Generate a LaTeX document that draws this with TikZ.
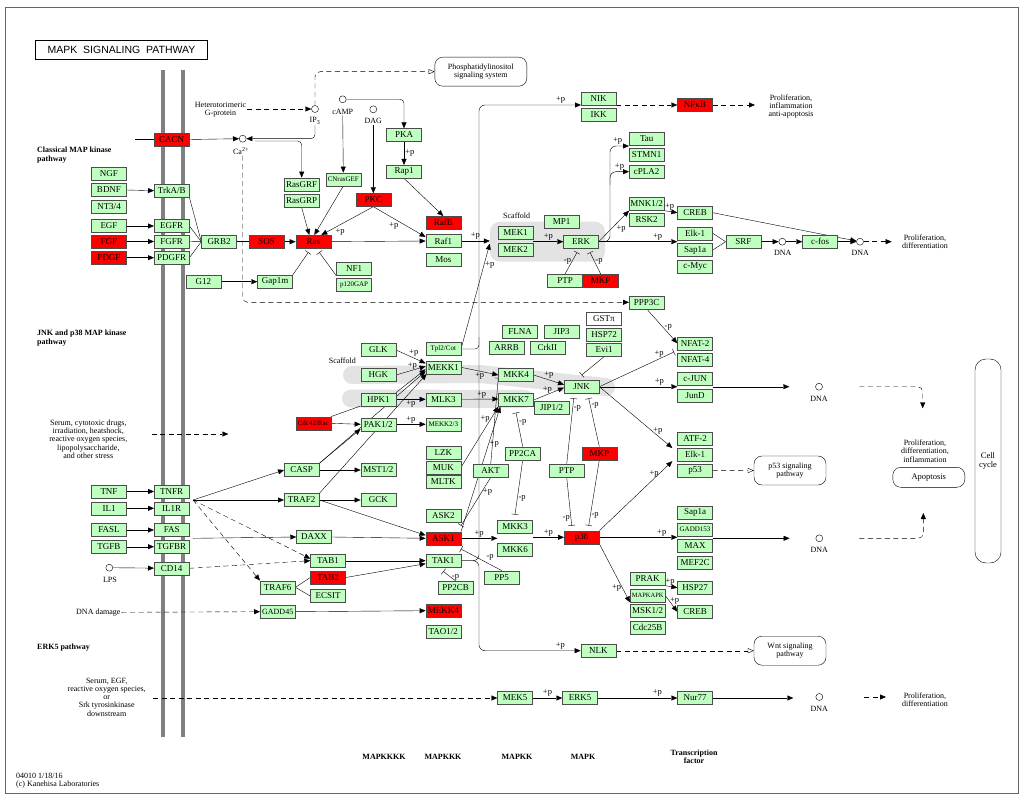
\documentclass[tikz,border=0pt]{standalone}
\usepackage{fontspec}
\setmainfont{Liberation Serif}
\newfontfamily\titlefont{Liberation Sans}
\usetikzlibrary{arrows.meta}
\pgfdeclarelayer{back}
\pgfdeclarelayer{wires}
\pgfsetlayers{back,wires,main}
\definecolor{kgreen}{HTML}{BFFFBF}
\definecolor{kred}{HTML}{FF0000}
\definecolor{scaf}{HTML}{E3E3E3}
\tikzstyle{gene} = [draw=black!70, fill=kgreen, rectangle,
    minimum height=13pt, minimum width=35pt, inner sep=0pt,
    font=\fontsize{9}{9}\selectfont]
\tikzstyle{hit} = [gene, fill=kred]
\tikzstyle{squeeze} = [font=\fontsize{7}{7}\selectfont]
\tikzstyle{cpd} = [draw, circle, fill=white, inner sep=0pt, minimum size=7pt]
\tikzstyle{note} = [align=center, inner sep=1pt, font=\fontsize{8}{8.3}\selectfont]
\tikzstyle{sect} = [align=left, anchor=north west, inner sep=0pt,
    font=\bfseries\fontsize{8}{8.5}\selectfont]
\tikzstyle{tier} = [align=center, inner sep=0pt, font=\bfseries\fontsize{8}{8}\selectfont]
\tikzstyle{lbl} = [inner sep=1pt, font=\fontsize{8.5}{8.5}\selectfont]
\tikzstyle{mapbox} = [draw, rounded corners=8pt, align=center,
    minimum width=72pt, minimum height=29pt, font=\fontsize{8}{8.3}\selectfont]
\tikzstyle{act} = [-{Triangle[length=6pt,width=5pt]}]
\tikzstyle{oact} = [-{Triangle[open,length=6pt,width=5pt]}]
\tikzstyle{inh} = [-{Bar[width=7pt]}]
\tikzstyle{ind} = [dash pattern=on 5pt off 3.5pt]

\begin{document}
\begin{tikzpicture}[x=1pt, y=-1pt, line width=0.85pt]
\useasboundingbox (0,0) rectangle (1024,799);
\draw[black!60] (5,7) rectangle (1018,793);

% membrane and scaffolds
\begin{pgfonlayer}{back}
\draw[black!50, line width=4pt] (162.7,70) -- (162.7,737);
\draw[black!50, line width=4pt] (182.7,70) -- (182.7,737);
\node[fill=scaf, rounded corners=10pt, minimum width=115pt,
    minimum height=40pt, inner sep=0pt] (scafmek) at (547.5,241.7) {};
\draw[scaf, line width=18pt, line cap=round, line join=round]
    (352,375) -- (480,374) -- (606,387);
\draw[scaf, line width=18pt, line cap=round] (351,398.5) -- (525,399);
\end{pgfonlayer}

\node[draw, line width=1.5pt, minimum width=172pt, minimum height=19pt,
    font=\titlefont\fontsize{10.5}{10.5}\selectfont] (title) at (121.5,50)
    {MAPK\ \ SIGNALING\ \ PATHWAY};
\node[sect] (classic) at (37,147) {Classical MAP kinase\\pathway};
\node[sect] (jnkp) at (37,330) {JNK and p38 MAP kinase\\pathway};
\node[sect] (erk5p) at (37,644) {ERK5 pathway};
\node[note, align=left, anchor=west] (foot) at (15,781)
    {04010 1/18/16\\(c) Kanehisa Laboratories};

% compounds and pathway maps
\node[note] (hetero) at (220.5,110) {Heterotorimeric\\G-protein};
\node[cpd] (ip3) at (315,109) {};
\node[note] (ip3t) at (315,121) {IP\textsubscript{3}};
\node[cpd] (ca) at (242.7,138.7) {};
\node[note] (catxt) at (241,151) {Ca\textsuperscript{2+}};
\node[cpd] (camp) at (342.7,99.3) {};
\node[note] (campt) at (342.7,111.7) {cAMP};
\node[cpd] (dag) at (373.3,109.3) {};
\node[note] (dagt) at (373.3,121) {DAG};
\node[mapbox, minimum width=92pt] (pis) at (480.8,71.7) {Phosphatidylinositol\\signaling system};

% classical MAP kinase
\node[hit] (cacn) at (171.5,139.5) {CACN};
\node[gene] (ngf) at (109,173.3) {NGF};
\node[gene] (bdnf) at (109,190) {BDNF};
\node[gene] (nt34) at (109,206.5) {NT3/4};
\node[gene] (trkab) at (171.7,190.7) {TrkA/B};
\node[gene] (egf) at (109,226) {EGF};
\node[hit] (fgf) at (109,241.5) {FGF};
\node[hit] (pdgf) at (109,257.7) {PDGF};
\node[gene] (egfr) at (171.7,226) {EGFR};
\node[gene] (fgfr) at (171.7,241.5) {FGFR};
\node[gene] (pdgfr) at (171.7,257.7) {PDGFR};
\node[gene] (grb2) at (219,241.7) {GRB2};
\node[hit] (sos) at (266.7,241.7) {SOS};
\node[hit] (ras) at (313.3,241.7) {Ras};
\node[gene] (g12) at (203.3,281.7) {G12};
\node[gene] (gap1m) at (275,281.7) {Gap1m};
\node[gene] (nf1) at (354,269) {NF1};
\node[gene, squeeze] (p120) at (354,285) {p120GAP};
\node[gene] (rasgrf) at (301.7,184.3) {RasGRF};
\node[gene] (rasgrp) at (301.7,201) {RasGRP};
\node[gene, squeeze] (cnras) at (343.3,179.3) {CNrasGEF};
\node[hit] (pkc) at (373.3,200) {PKC};
\node[gene] (pka) at (404,135) {PKA};
\node[gene] (rap1) at (404,171.7) {Rap1};
\node[hit] (rafb) at (443.3,222.7) {RafB};
\node[gene] (raf1) at (443.3,241) {Raf1};
\node[gene] (mos) at (443.3,259.3) {Mos};
\node[note] (scaf1t) at (516.7,216) {Scaffold};
\node[gene] (mek1) at (515.7,232.7) {MEK1};
\node[gene] (mek2) at (515.7,250) {MEK2};
\node[gene] (mp1) at (561.7,222) {MP1};
\node[gene] (erk) at (581,241.7) {ERK};
\node[gene] (ptp1) at (565,280.7) {PTP};
\node[hit] (mkp1) at (600.7,280.7) {MKP};
\node[gene] (nik) at (598.7,98.3) {NIK};
\node[gene] (ikk) at (598.7,114.3) {IKK};
\node[hit] (nfkb) at (695,105) {NFκB};
\node[note] (prolifA) at (791,106.7) {Proliferation,\\inflammation\\anti-apoptosis};
\node[gene] (tau) at (646.7,138.3) {Tau};
\node[gene] (stmn1) at (646.7,154.7) {STMN1};
\node[gene] (cpla2) at (646.7,171.7) {cPLA2};
\node[gene] (mnk) at (646.7,204) {MNK1/2};
\node[gene] (rsk2) at (646.7,219.5) {RSK2};
\node[gene] (creb1) at (695,212.7) {CREB};
\node[gene] (elk1a) at (695,233.3) {Elk-1};
\node[gene] (sap1a) at (695,250) {Sap1a};
\node[gene] (cmyc) at (695,266.7) {c-Myc};
\node[gene] (srf) at (743.3,241.7) {SRF};
\node[cpd] (dna1) at (782.3,241.7) {};
\node[note] (dna1t) at (782.7,253) {DNA};
\node[gene] (cfos) at (820,241.7) {c-fos};
\node[cpd] (dna2) at (860,241.7) {};
\node[note] (dna2t) at (860.3,253) {DNA};
\node[note] (prolifB) at (925,242) {Proliferation,\\differentiation};

% JNK and p38
\node[gene] (ppp3c) at (646.7,302.3) {PPP3C};
\node[note] (scaf2t) at (342.3,361) {Scaffold};
\node[gene] (glk) at (378.3,350) {GLK};
\node[gene] (hgk) at (378.3,375) {HGK};
\node[gene] (hpk1) at (378.3,399.3) {HPK1};
\node[gene] (pak12) at (378.3,424.3) {PAK1/2};
\node[hit, squeeze] (cdc42) at (313.3,423.3) {Cdc42/Rac};
\node[gene] (casp) at (301.7,470) {CASP};
\node[gene] (traf2) at (301.7,500) {TRAF2};
\node[gene] (mst12) at (378.3,470) {MST1/2};
\node[gene] (gck) at (378.3,500) {GCK};
\node[gene, squeeze] (tpl2) at (443.3,349) {Tpl2/Cot};
\node[gene] (mekk1) at (443.3,367.3) {MEKK1};
\node[gene] (mlk3) at (443.3,399.3) {MLK3};
\node[gene, squeeze] (mekk23) at (443.3,424.3) {MEKK2/3};
\node[gene] (lzk) at (443.3,452.7) {LZK};
\node[gene] (muk) at (443.3,467.3) {MUK};
\node[gene] (mltk) at (443.3,481.7) {MLTK};
\node[gene] (ask2) at (443.3,515.5) {ASK2};
\node[gene] (flna) at (520,331.7) {FLNA};
\node[gene] (jip3) at (561.7,331.7) {JIP3};
\node[gene] (arrb) at (506.7,347.3) {ARRB};
\node[gene] (crkii) at (547.3,347.3) {CrkII};
\node[gene, fill=white] (gstp) at (604,318.3) {GSTπ};
\node[gene] (hsp72) at (604,334.3) {HSP72};
\node[gene] (evi1) at (604,350) {Evi1};
\node[gene] (mkk4) at (516,375) {MKK4};
\node[gene] (mkk7) at (516,400) {MKK7};
\node[gene] (jip12) at (551.7,407.3) {JIP1/2};
\node[gene] (jnk) at (581.7,386.7) {JNK};
\node[gene] (pp2ca) at (522.7,453.3) {PP2CA};
\node[gene] (akt) at (490.7,470.7) {AKT};
\node[gene] (ptp2) at (566.7,470.7) {PTP};
\node[hit] (mkp2) at (599.3,453.3) {MKP};
\node[gene] (nfat2) at (695,343.3) {NFAT-2};
\node[gene] (nfat4) at (695,360) {NFAT-4};
\node[gene] (cjun) at (695,379) {c-JUN};
\node[gene] (jund) at (695,395.7) {JunD};
\node[cpd] (dna3) at (819,386.7) {};
\node[note] (dna3t) at (819,398.5) {DNA};
\node[gene] (atf2) at (695,438.3) {ATF-2};
\node[gene] (elk1b) at (695,454.5) {Elk-1};
\node[gene] (p53) at (695,470.7) {p53};
\node[mapbox] (p53path) at (790,470.5) {p53 signaling\\pathway};
\node[note] (prolifC) at (925,451) {Proliferation,\\differentiation,\\inflammation};
\node[mapbox, minimum height=20pt, font=\fontsize{8.5}{8.5}\selectfont] (apop) at (928.8,477.3) {Apoptosis};
\node[draw, rounded corners=11pt, minimum width=26pt, minimum height=204pt,
    align=center, font=\fontsize{8.5}{8.8}\selectfont] (cellcyc) at (988,461) {Cell\\cycle};
\node[note] (stress) at (88.3,439) {Serum, cytotoxic drugs,\\irradiation, heatshock,\\reactive oxygen species,\\lipopolysaccharide,\\and other stress};
\node[gene] (tnf) at (109,491.5) {TNF};
\node[gene] (il1) at (109,508.3) {IL1};
\node[gene] (fasl) at (109,530) {FASL};
\node[gene] (tgfb) at (109,546.7) {TGFB};
\node[gene] (tnfr) at (171.7,491.5) {TNFR};
\node[gene] (il1r) at (171.7,508.3) {IL1R};
\node[gene] (fas) at (171.7,530) {FAS};
\node[gene] (tgfbr) at (171.7,546.7) {TGFBR};
\node[cpd] (lps) at (109.3,567.7) {};
\node[note] (lpst) at (110,580) {LPS};
\node[gene] (cd14) at (171.7,568.3) {CD14};
\node[gene] (daxx) at (314,537) {DAXX};
\node[gene] (tab1) at (328,560.7) {TAB1};
\node[hit] (tab2) at (328,577.5) {TAB2};
\node[gene] (ecsit) at (328,596) {ECSIT};
\node[gene] (traf6) at (277.7,587.3) {TRAF6};
\node[gene, font=\fontsize{8}{8}\selectfont] (gadd45) at (277.7,611.7) {GADD45};
\node[note] (dnadmg) at (98.3,612.3) {DNA damage};
\node[hit] (ask1) at (443.3,538.3) {ASK1};
\node[gene] (tak1) at (443.3,560.7) {TAK1};
\node[gene] (pp2cb) at (455.7,587.7) {PP2CB};
\node[hit] (mekk4) at (443.3,610.7) {MEKK4};
\node[gene] (tao12) at (443.3,631.7) {TAO1/2};
\node[gene] (mkk3) at (515,526.3) {MKK3};
\node[gene] (mkk6) at (515,550) {MKK6};
\node[gene] (pp5) at (501.7,577.3) {PP5};
\node[hit] (p38) at (581.7,537.3) {p38};
\node[gene] (sap1b) at (695,512.7) {Sap1a};
\node[gene, squeeze] (gadd153) at (695,529.7) {GADD153};
\node[gene] (max) at (695,546) {MAX};
\node[gene] (mef2c) at (695,562.3) {MEF2C};
\node[cpd] (dna4) at (819.3,538.3) {};
\node[note] (dna4t) at (819.3,550) {DNA};
\node[gene] (prak) at (647.7,579) {PRAK};
\node[gene, font=\fontsize{6.5}{6.5}\selectfont] (mapkapk) at (647.7,595.7) {MAPKAPK};
\node[gene] (msk12) at (647.7,611) {MSK1/2};
\node[gene] (cdc25b) at (647.7,627.3) {Cdc25B};
\node[gene] (hsp27) at (695,587.7) {HSP27};
\node[gene] (creb2) at (695,611.7) {CREB};
\node[gene] (nlk) at (598.3,650.7) {NLK};
\node[mapbox] (wnt) at (790,650.7) {Wnt signaling\\pathway};

% ERK5
\node[note] (serum5) at (106.7,697) {Serum, EGF,\\reactive oxygen species,\\or\\Srk tyrosinkinase\\downstream};
\node[gene] (mek5) at (515,698) {MEK5};
\node[gene] (erk5) at (580,698) {ERK5};
\node[gene] (nur77) at (695,698) {Nur77};
\node[cpd] (dna5) at (819.3,697) {};
\node[note] (dna5t) at (819.3,708.5) {DNA};
\node[note] (prolifD) at (925,700) {Proliferation,\\differentiation};

\node[tier] (t1) at (384,757) {MAPKKKK};
\node[tier] (t2) at (443,757) {MAPKKK};
\node[tier] (t3) at (517,757) {MAPKK};
\node[tier] (t4) at (583,757) {MAPK};
\node[tier] (t5) at (694,757) {Transcription\\factor};

% free ends
\coordinate (cacnin) at (135,139.5);
\coordinate (rasgrfin) at (255,141);
\coordinate (erkbend) at (610,146);
\coordinate (cplabend) at (610,185);
\coordinate (vx) at (479,0);
\coordinate (nfkbend) at (755,105);
\coordinate (prolbend) at (891.7,241.7);
\coordinate (nfatbar) at (674,352);
\coordinate (jnkdnaA) at (859.3,386.7);
\coordinate (jnkdnaB) at (922.7,408.3);
\coordinate (p38dnaA) at (859.3,538.3);
\coordinate (p38dnaB) at (923.3,513);
\coordinate (stressa) at (151.7,434);
\coordinate (stressb) at (228.3,434);
\coordinate (tnfrout) at (193,500);
\coordinate (fasout) at (193,538.3);
\coordinate (erk5in) at (153.3,698);
\coordinate (erk5dA) at (864,697);
\coordinate (erk5dB) at (886,697);

\begin{pgfonlayer}{wires}
% classical edges
\draw[ind, act] (hetero.east |- ip3) -- (ip3.west);
\draw[ind, oact, rounded corners=5pt] (ip3.north) |- (pis.west);
\draw[act, rounded corners=4pt] (ip3t.south) |- (ca.east);
\draw[act, rounded corners=4pt] (rasgrfin) -| (rasgrf.north);
\draw (cacnin) -- (cacn.west);
\draw[act] (cacn.east) -- (ca.west);
\draw[ind, act, rounded corners=5pt] (ca.south |- catxt.south) |- (ppp3c.west);
\draw[act, rounded corners=4pt] (camp.east) -| (pka.north);
\draw[act] (campt.south) -- (cnras.north);
\draw[act] (dagt.south) -- (pkc.north);
\draw[act] (pka.south) -- node[lbl, right]{+p} (rap1.north);
\draw[act] (rap1.south) -- (rafb.north);
\draw[act] (rasgrp.south) -- ([xshift=-4pt]ras.north);
\draw[act] (cnras.south) -- ([xshift=1pt]ras.north);
\draw[act] (pkc.south) -- node[lbl, pos=0.75, below right]{+p} ([xshift=8pt]ras.north);
\draw[act] (pkc.south) -- node[lbl, pos=0.5, below left]{+p} ([yshift=4pt]raf1.west);
\draw[act] (ras.east) -- (raf1.west);
\draw[act] (bdnf.east) -- (trkab.west);
\draw[act] (egf) -- (egfr);
\draw[act] (fgf) -- (fgfr);
\draw[act] (pdgf) -- (pdgfr);
\draw (trkab.south east) -- (grb2.west);
\draw (egfr.east) -- (grb2.west);
\draw (fgfr.east) -- (grb2.west);
\draw (pdgfr.east) -- (grb2.west);
\draw (grb2) -- (sos);
\draw[act] (sos) -- (ras);
\draw[act] (g12) -- (gap1m);
\draw[inh] (gap1m.north east) -- ([xshift=-5pt,yshift=-4pt]ras.south);
\draw[inh] (nf1.south west) -- ([xshift=6pt,yshift=-4pt]ras.south);
\draw[act] (raf1.east) -- node[lbl, above]{+p} (raf1.east -| scafmek.west);
\draw[act] (tpl2.east) -- node[lbl, pos=0.8, right]{+p} ([yshift=-2pt]scafmek.west);
\draw[act] (mek1.south east |- erk) -- node[lbl, above]{+p} (erk.west);
\draw[inh] (ptp1.north) -- node[lbl, left, pos=0.6]{-p} ([xshift=-4pt,yshift=-4pt]erk.south);
\draw[inh] (mkp1.north) -- node[lbl, right, pos=0.6]{-p} ([xshift=9pt,yshift=-4pt]erk.south);
\draw[act, rounded corners=6pt] (erk.east) -| (erkbend)
    -- node[lbl, above, pos=0.4]{+p} (erkbend -| tau.west);
\draw[act, rounded corners=6pt] (cplabend) |- node[lbl, above, pos=0.75]{+p} (cpla2.west);
\draw[act] (erk.east) -- node[lbl, pos=0.55, below right]{+p} (mnk.south west);
\draw[act] (erk.east) -- node[lbl, above, pos=0.75]{+p} (erk.east -| elk1a.west);
\draw[act] (mnk.south east) -- node[lbl, above, pos=0.4]{+p} (creb1.west);
\draw[act] (creb1.east) -- (dna2);
\draw (elk1a.east) -- (srf.west);
\draw (sap1a.east) -- (srf.west);
\draw[act] (srf) -- (dna1);
\draw[act] (dna1) -- (cfos);
\draw[act] (cfos) -- (dna2);
\draw[ind, act] (dna2) -- (prolbend);
\draw[act, rounded corners=6pt] (tak1.east) -| (vx |- nik.south west)
    -- node[lbl, above, pos=0.8]{+p} (nik.south west);
\draw[act, rounded corners=6pt] (tak1.east) -| (vx |- nlk.west)
    -- node[lbl, above, pos=0.8]{+p} (nlk.west);
\draw[rounded corners=4pt] (tpl2.east) -| ([yshift=12pt]vx |- tpl2.east);
\draw[ind, act] (nik.south east) -- (nfkb.west);
\draw[ind, act] (nfkb.east) -- (nfkbend);

% JNK and p38 edges
\draw[act] (ppp3c.south) -- node[lbl, right, pos=0.55]{-p} (nfat2.west);
\draw[inh] (jnk.east) -- node[lbl, above, pos=0.8]{+p} (nfatbar);
\draw[act] (jnk.east) -- node[lbl, above, pos=0.77]{+p} (jnk.east -| cjun.west);
\draw[act, shorten >=26pt] (cjun.east |- dna3) -- (dna3);
\draw[ind, act, rounded corners=5pt] (jnkdnaA) -| (jnkdnaB);
\draw[act] (jnk.east) -- node[lbl, above, pos=0.8]{+p} ([xshift=-5pt,yshift=-3pt]atf2.south west);
\draw[act] (p38.north east) -- node[lbl, above, pos=0.75]{+p} ([xshift=-5pt]elk1b.south west);
\draw[ind, oact] (p53.east) -- (p53path.west);
\draw[act] (glk.east) -- node[lbl, above, pos=0.6]{+p} ([yshift=4pt]mekk1.west);
\draw[act] (hgk.east) -- node[lbl, above, pos=0.55]{+p} ([yshift=1pt]mekk1.west);
\draw[act] (hpk1.north east) -- ([yshift=-2pt]mekk1.west);
\draw (cdc42.north east) -- (hpk1.south west);
\draw[act] (cdc42.east) -- (pak12.west);
\draw[act] (casp.north east) -- ([yshift=2pt]pak12.south west);
\draw[act] (casp.north east) -- ([yshift=-4pt]mekk1.west);
\draw[act] (traf2.north east) -- ([xshift=1pt]mekk1.south west);
\draw[act] (hpk1.east) -- node[lbl, below]{+p} (mlk3.west);
\draw[act] (pak12.east) -- node[lbl, above]{+p} (mekk23.west);
\draw[act] (casp.east) -- (mst12.west);
\draw[act] (traf2.east) -- (gck.west);
\draw[act] (traf2.east) -- ([yshift=3pt]ask1.west);
\draw[act] (tnfrout) -- (casp.west);
\draw[act] (tnfrout) -- (traf2.west);
\draw[ind, act] (tnfrout) -- ([yshift=2pt]tab1.west);
\draw[ind, act] (tnfrout) -- (traf6.north west);
\draw[act] (fasout) -- (daxx.west);
\draw[ind, act] (cd14.east) -- (tab1.west);
\draw[act] (lps) -- (cd14);
\draw[act] (tnf) -- (tnfr);
\draw[act] (il1) -- (il1r);
\draw[act] (fasl) -- (fas);
\draw[act] (tgfb) -- (tgfbr);
\draw (traf6.east) -- (tab2.west);
\draw (traf6.east) -- (ecsit.west);
\draw[act] (tab1.east) -- (tak1.west);
\draw[act] (tab2.east) -- ([yshift=-3pt]tak1.west);
\draw[act] (daxx.east) -- (ask1.west);
\draw[ind, act] (dnadmg.east) -- (gadd45.west);
\draw[act] (gadd45.east) -- (mekk4.west);
\draw[act] (mekk1.east) -- node[lbl, below]{+p} (mkk4.west);
\draw[act] (mlk3.east) -- node[lbl, above, pos=0.55]{+p} ([yshift=1pt]mkk7.west);
\draw[act] (muk.east) -- node[lbl, left, pos=0.8]{+p} (mkk7.south west);
\draw[act] (ask1.north east) -- node[lbl, right, pos=0.7]{+p} ([xshift=2pt]mkk7.south west);
\draw[inh] (akt.north) -- ([yshift=-3pt]mkk4.west);
\draw[inh] (akt.south) -- node[lbl, right, pos=0.3]{+p} ([yshift=6pt]ask1.north east);
\draw[act] (mkk4.east) -- node[lbl, above]{+p} ([yshift=2pt]jnk.west);
\draw[act] (mkk7.east) -- node[lbl, above, pos=0.45]{+p} ([yshift=-1pt]jnk.west);
\draw[inh] (evi1.south) -- ([yshift=5pt]jnk.north);
\draw[inh] (ptp2.north) -- node[lbl, right, pos=0.85]{-p} ([xshift=-8pt,yshift=-5pt]jnk.south);
\draw[inh] (mkp2.north) -- node[lbl, right, pos=0.85]{-p} ([xshift=7pt,yshift=-5pt]jnk.south);
\draw[inh] (ptp2.south) -- node[lbl, left, pos=0.85]{-p} ([xshift=-10pt,yshift=5pt]p38.north);
\draw[inh] (mkp2.south) -- node[lbl, right, pos=0.85]{-p} ([xshift=7pt,yshift=5pt]p38.north);
\draw[inh] (pp2ca.north) -- node[lbl, right, pos=0.7]{-p} ([yshift=-6pt]mkk7.south);
\draw[inh] (pp2ca.south) -- node[lbl, right, pos=0.7]{-p} ([yshift=5pt]mkk3.north);
\draw[act] (ask1.east) -- node[lbl, above]{+p} (ask1.east -| mkk3.west);
\draw[act] (mkk3.east |- p38) -- node[lbl, above]{+p} (p38.west);
\draw[inh] (pp5.north) -- node[lbl, above right, pos=0.4]{-p} ([yshift=5pt]tak1.north east);
\draw[inh] (pp2cb.north) -- node[lbl, right, pos=0.4]{-p} ([yshift=-4pt]tak1.south);
\draw[act] (p38.east) -- node[lbl, above, pos=0.8]{+p} (p38.east -| sap1b.west);
\draw[act, shorten >=26pt] (gadd153.east |- dna4) -- (dna4);
\draw[ind, act, rounded corners=5pt] (p38dnaA) -| (p38dnaB);
\draw[act] (p38.south east) -- node[lbl, left, pos=0.75]{+p} (mapkapk.south west);
\draw[act] (prak.south east) -- node[lbl, above, pos=0.4]{+p} (hsp27.west);
\draw[act] (mapkapk.east) -- node[lbl, right, pos=0.3]{+p} (creb2.west);
\draw[ind, oact] (nlk.east) -- (wnt.west);
\draw[ind, act] (stressa) -- (stressb);

% ERK5 edges
\draw[ind, act] (erk5in) -- (mek5.west);
\draw[act] (mek5) -- node[lbl, above]{+p} (erk5);
\draw[act] (erk5) -- node[lbl, above, pos=0.75]{+p} (nur77);
\draw[act, shorten >=26pt] (nur77.east) -- (nur77.east -| dna5);
\draw[ind, act] (erk5dA) -- (erk5dB);
\end{pgfonlayer}
\end{tikzpicture}
\end{document}
